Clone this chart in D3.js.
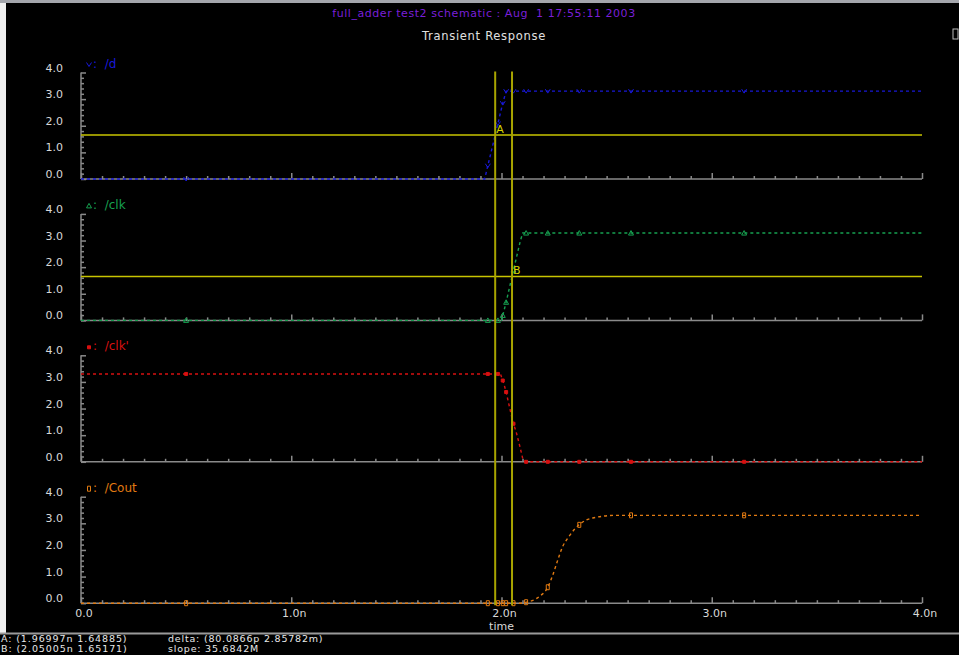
<!DOCTYPE html>
<html>
<head>
<meta charset="utf-8">
<script src="https://cdn.jsdelivr.net/npm/d3@7"></script>
<style>
  html, body { margin: 0; padding: 0; background: #000; }
  svg { display: block; }
  text { font-family: "DejaVu Sans", sans-serif; white-space: pre; }
</style>
</head>
<body>
<div id="chart"></div>
<script>
// chart values (time in ns, volts)
var titleText = "full_adder test2 schematic : Aug  1 17:55:11 2003";
var subTitle = "Transient Response";
var signalNames = ["/d", "/clk", "/clk'", "/Cout"];
var signalColors = ["#1818d8", "#16a050", "#d81010", "#e07a12"];

var dTime = [0, 1.92, 1.935, 1.97, 2.006, 2.022, 2.06, 4.0];
var dVolt = [0, 0, 0.5, 1.65, 2.85, 3.3, 3.3, 3.3];

var clkTime = [0, 2.0, 2.022, 2.05, 2.09, 2.101, 4.0];
var clkVolt = [0, 0, 0.68, 1.65, 3.0, 3.28, 3.28];

var clkbTime = [0, 1.995, 2.011, 2.022, 2.038, 2.054, 2.07, 2.086, 2.101, 2.115, 4.0];
var clkbVolt = [3.3, 3.3, 2.94, 2.62, 2.06, 1.5, 1.12, 0.62, 0.12, 0, 0];

var coutTime = [0, 2.08, 2.12, 2.18, 2.22, 2.244, 2.268, 2.291, 2.315, 2.374, 2.434, 2.545, 4.0];
var coutVolt = [0, 0, 0.04, 0.25, 0.6, 1.06, 1.63, 2.13, 2.44, 2.98, 3.2, 3.3, 3.3];

// simulator points that get a marker
var markTime = [0.5, 1.935, 1.983, 2.006, 2.022, 2.057, 2.117, 2.22, 2.37, 2.616, 3.154];

var yTicks = [0, 1, 2, 3, 4];
var xTicks = [0, 1, 2, 3, 4];
var xTickLabels = ["0.0", "1.0n", "2.0n", "3.0n", "4.0n"];

// cursors A (on /d) and B (on /clk)
var cursorA = { t: 1.96997, v: 1.64885, panel: 0 };
var cursorB = { t: 2.05005, v: 1.65171, panel: 1 };
var statusLeft = ["A: (1.96997n 1.64885)", "B: (2.05005n 1.65171)"];
var statusRight = ["delta: (80.0866p 2.85782m)", "slope: 35.6842M"];

var w = 959;
var h = 655;
var panelBottom = 179;
var panelStep = 141.4;
var panelH = 106.5;

var svg = d3.select("#chart")
    .append("svg")
    .attr("width", w)
    .attr("height", h);

svg.append("rect").attr("width", w).attr("height", h).attr("fill", "#000");
// window frame bits
svg.append("rect").attr("x", 0).attr("y", 0).attr("width", w).attr("height", 3).attr("fill", "#a4a6ac");
svg.append("rect").attr("x", 0).attr("y", 3).attr("width", 6).attr("height", 630).attr("fill", "#f0f0f0");
svg.append("rect").attr("x", 953).attr("y", 29).attr("width", 5).attr("height", 10)
    .attr("fill", "none").attr("stroke", "#bbb").attr("stroke-width", 1);

svg.append("text").attr("x", 484).attr("y", 17).attr("text-anchor", "middle")
    .attr("font-size", 11).attr("letter-spacing", 0.55).attr("fill", "#7a1fd8").text(titleText);
svg.append("text").attr("x", 484).attr("y", 40).attr("text-anchor", "middle")
    .attr("font-size", 11.5).attr("letter-spacing", 0.7).attr("fill", "#e0e0e0").text(subTitle);

var xScale = d3.scaleLinear().domain([0, 4]).range([81, 922]);

var series = [
    { name: signalNames[0], time: dTime, volt: dVolt, color: signalColors[0], mark: "v" },
    { name: signalNames[1], time: clkTime, volt: clkVolt, color: signalColors[1], mark: "tri" },
    { name: signalNames[2], time: clkbTime, volt: clkbVolt, color: signalColors[2], mark: "sq" },
    { name: signalNames[3], time: coutTime, volt: coutVolt, color: signalColors[3], mark: "box" }
];

function markerPath(kind) {
    if (kind == "v") return "M-2.5,-2L0,2L2.5,-2";
    if (kind == "tri") return "M-2.5,2L0,-2.5L2.5,2Z";
    if (kind == "sq") return "M-1.5,-1.5h3v3h-3Z";
    return "M-1.5,-2.5h3v5h-3Z";
}

var yScales = [];

series.forEach(function (s, i) {
    var bottom = panelBottom + i * panelStep;
    var yScale = d3.scaleLinear().domain([0, 4]).range([bottom, bottom - panelH]);
    yScales.push(yScale);
    var g = svg.append("g");

    // Y axis (ticks point inwards)
    var yAxis = d3.axisRight(yScale)
        .tickValues(d3.range(0, 4.01, 0.2))
        .tickSize(3)
        .tickFormat("");
    var yg = g.append("g").attr("transform", "translate(" + xScale(0) + ",0)").call(yAxis);
    yg.selectAll(".tick line").attr("x2", function (d) { return Math.abs(d - Math.round(d)) < 1e-6 ? 5 : 3; });
    yg.select(".domain").attr("d", "M0," + yScale(4) + "V" + yScale(0));
    yg.selectAll("path, line").attr("stroke", "#8a8a8a").attr("stroke-width", 1.5);

    g.selectAll(".ylab").data(yTicks).enter().append("text")
        .attr("x", 63).attr("y", function (d) { return yScale(d) - 1; })
        .attr("text-anchor", "end").attr("font-size", 11).attr("fill", "#d8d8d8")
        .text(function (d) { return d.toFixed(1); });

    // X axis
    var xAxis = d3.axisTop(xScale)
        .tickValues(d3.range(0, 4.001, 0.1))
        .tickSize(3)
        .tickFormat("");
    var xg = g.append("g").attr("transform", "translate(0," + bottom + ")").call(xAxis);
    xg.selectAll(".tick line").attr("y2", function (d) { return Math.abs(d - Math.round(d)) < 1e-6 ? -6 : -3; });
    xg.select(".domain").attr("d", "M" + xScale(0) + ",0H" + xScale(4));
    xg.selectAll("path, line").attr("stroke", "#8a8a8a").attr("stroke-width", 1.5);

    // trace
    var pts = s.time.map(function (t, k) { return [t, s.volt[k]]; });
    var line = d3.line()
        .x(function (d) { return xScale(d[0]); })
        .y(function (d) { return yScale(d[1]); })
        .curve(i == 3 ? d3.curveMonotoneX : d3.curveLinear);
    g.append("path").datum(pts)
        .attr("d", line)
        .attr("fill", "none")
        .attr("stroke", s.color)
        .attr("stroke-width", 1.4)
        .attr("stroke-dasharray", "3,3");

    var interp = function (t) {
        for (var k = 1; k < s.time.length; k++) {
            if (t <= s.time[k]) {
                var f = (t - s.time[k - 1]) / (s.time[k] - s.time[k - 1]);
                return s.volt[k - 1] + f * (s.volt[k] - s.volt[k - 1]);
            }
        }
        return s.volt[s.volt.length - 1];
    };
    g.selectAll(".mk").data(markTime).enter().append("path")
        .attr("transform", function (t) { return "translate(" + xScale(t) + "," + yScale(interp(t)) + ")"; })
        .attr("d", markerPath(s.mark))
        .attr("fill", s.mark == "sq" ? s.color : "none")
        .attr("stroke", s.color)
        .attr("stroke-width", 1);

    // legend
    var ly = yScale(4) - 5;
    g.append("path")
        .attr("transform", "translate(89," + (ly - 3) + ")")
        .attr("d", markerPath(s.mark))
        .attr("fill", s.mark == "sq" ? s.color : "none")
        .attr("stroke", s.color).attr("stroke-width", 1);
    g.append("text").attr("x", 93).attr("y", ly)
        .attr("font-size", 12).attr("fill", s.color)
        .text(":  " + s.name);
});

// x tick labels on the lowest panel
var lastBottom = panelBottom + 3 * panelStep;
svg.selectAll(".xlab").data(xTicks).enter().append("text")
    .attr("x", function (d) { return xScale(d) + 3; })
    .attr("y", lastBottom + 14)
    .attr("text-anchor", "middle").attr("font-size", 11).attr("fill", "#d8d8d8")
    .text(function (d, i) { return xTickLabels[i]; });
svg.append("text").attr("x", xScale(2)).attr("y", lastBottom + 27)
    .attr("text-anchor", "middle").attr("font-size", 11).attr("fill", "#d8d8d8").text("time");

// cursors
[cursorA, cursorB].forEach(function (c, i) {
    var ys = yScales[c.panel];
    svg.append("line")
        .attr("x1", xScale(0)).attr("x2", xScale(4))
        .attr("y1", ys(c.v)).attr("y2", ys(c.v))
        .attr("stroke", "#c8c400").attr("stroke-width", 1.5);
    svg.append("text")
        .attr("x", xScale(c.t) + 1).attr("y", ys(c.v) - 2)
        .attr("font-size", 11).attr("fill", "#d8d400")
        .text(i == 0 ? "A" : "B");
});
[cursorA, cursorB].forEach(function (c) {
    svg.append("line")
        .attr("x1", xScale(c.t)).attr("x2", xScale(c.t))
        .attr("y1", yScales[0](4) - 1).attr("y2", lastBottom + 2)
        .attr("stroke", "#a8a400").attr("stroke-width", 2);
});

// status area
svg.append("line").attr("x1", 0).attr("x2", w).attr("y1", 633.5).attr("y2", 633.5)
    .attr("stroke", "#9a9a9a").attr("stroke-width", 2);
statusLeft.forEach(function (t, i) {
    svg.append("text").attr("x", 1).attr("y", 642 + i * 10)
        .attr("font-size", 9.5).attr("letter-spacing", 0.9).attr("fill", "#e8e8e8").text(t);
});
statusRight.forEach(function (t, i) {
    svg.append("text").attr("x", 168).attr("y", 642 + i * 10)
        .attr("font-size", 9.5).attr("letter-spacing", 0.8).attr("fill", "#e8e8e8").text(t);
});
</script>
</body>
</html>
